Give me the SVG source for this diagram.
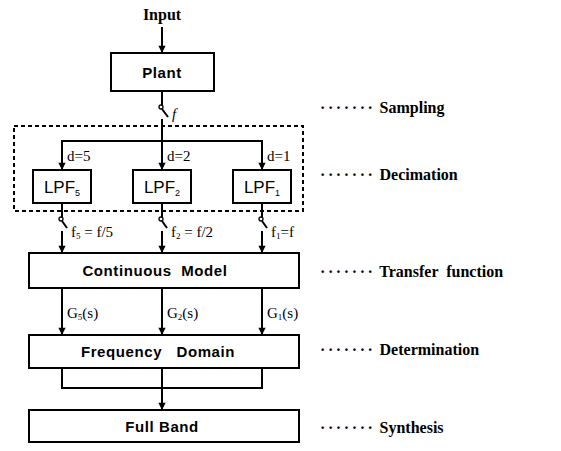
<svg xmlns="http://www.w3.org/2000/svg" width="561" height="451" viewBox="0 0 561 451">
<defs>
<marker id="ah" viewBox="0 0 8 10" refX="8" refY="5" markerWidth="8" markerHeight="9" markerUnits="userSpaceOnUse" orient="auto">
<path d="M0,1 L8,5 L0,9 Z" fill="#000"/>
</marker>
<style>
.box{fill:#fff;stroke:#000;stroke-width:2}
.ln{fill:none;stroke:#000;stroke-width:2}
.arr{fill:none;stroke:#000;stroke-width:2;marker-end:url(#ah)}
.sw{fill:#fff;stroke:#000;stroke-width:1.3}
.lbl{font-family:"Liberation Sans",Arial,sans-serif;font-weight:bold;font-size:15px;letter-spacing:0.6px;fill:#000;text-anchor:middle}
.lpf{font-family:"Liberation Sans",Arial,sans-serif;font-size:17px;fill:#000;text-anchor:middle}
.sm{font-family:"Liberation Serif","Times New Roman",serif;font-size:15px;fill:#000}
.side{font-family:"Liberation Serif","Times New Roman",serif;font-weight:bold;font-size:16px;fill:#000}
.dots{letter-spacing:2.6px}
.sub{font-size:9px}
</style>
</defs>
<rect width="561" height="451" fill="#fff"/>
<g id="connectors">
<line class="arr" x1="162" y1="27" x2="162" y2="53"/>
<line class="ln" x1="162" y1="91" x2="162" y2="105"/>
<circle class="sw" cx="161" cy="107" r="2"/>
<line class="ln" x1="162" y1="109" x2="168" y2="117" stroke-width="1.5"/>
<line class="ln" x1="162" y1="119" x2="162" y2="141"/>
<polyline class="ln" points="62,169 62,141 262,141 262,169"/>
<line class="arr" x1="62" y1="141" x2="62" y2="170"/>
<line class="arr" x1="162" y1="141" x2="162" y2="170"/>
<line class="arr" x1="262" y1="141" x2="262" y2="170"/>
<line class="ln" x1="62" y1="203" x2="62" y2="217"/>
<circle class="sw" cx="61" cy="219" r="2"/>
<line class="ln" x1="62" y1="221" x2="67" y2="228" stroke-width="1.5"/>
<line class="arr" x1="62" y1="231" x2="62" y2="253"/>
<line class="ln" x1="162" y1="203" x2="162" y2="217"/>
<circle class="sw" cx="161" cy="219" r="2"/>
<line class="ln" x1="162" y1="221" x2="167" y2="228" stroke-width="1.5"/>
<line class="arr" x1="162" y1="231" x2="162" y2="253"/>
<line class="ln" x1="262" y1="203" x2="262" y2="217"/>
<circle class="sw" cx="261" cy="219" r="2"/>
<line class="ln" x1="262" y1="221" x2="267" y2="228" stroke-width="1.5"/>
<line class="arr" x1="262" y1="231" x2="262" y2="253"/>
<line class="arr" x1="62" y1="288" x2="62" y2="335"/>
<line class="arr" x1="162" y1="288" x2="162" y2="335"/>
<line class="arr" x1="262" y1="288" x2="262" y2="335"/>
<polyline class="ln" points="62,368 62,388 262,388 262,368"/>
<line class="arr" x1="162" y1="368" x2="162" y2="410"/>
</g>
<rect x="14" y="126" width="289" height="85" fill="none" stroke="#000" stroke-width="2" stroke-dasharray="4,3"/>
<g id="input"><text x="162" y="20" class="side" text-anchor="middle" font-size="15">Input</text></g>
<g id="plant"><rect class="box" x="111" y="53" width="103" height="38"/><text class="lbl" x="162" y="78">Plant</text></g>
<text class="sm" x="172" y="119" font-style="italic">f</text>
<g id="lpf5"><rect class="box" x="33" y="170" width="58" height="33"/><text class="lpf" x="62" y="193">LPF<tspan class="sub" dy="3">5</tspan></text></g>
<g id="lpf2"><rect class="box" x="133" y="170" width="58" height="33"/><text class="lpf" x="162" y="193">LPF<tspan class="sub" dy="3">2</tspan></text></g>
<g id="lpf1"><rect class="box" x="233" y="170" width="58" height="33"/><text class="lpf" x="262" y="193">LPF<tspan class="sub" dy="3">1</tspan></text></g>
<text class="sm" x="67" y="161">d=5</text>
<text class="sm" x="167" y="161">d=2</text>
<text class="sm" x="267" y="161">d=1</text>
<text class="sm" x="71" y="237">f<tspan class="sub" dy="2">5</tspan><tspan dy="-2"> = f/5</tspan></text>
<text class="sm" x="171" y="237">f<tspan class="sub" dy="2">2</tspan><tspan dy="-2"> = f/2</tspan></text>
<text class="sm" x="271" y="237">f<tspan class="sub" dy="2">1</tspan><tspan dy="-2">=f</tspan></text>
<g id="continuous"><rect class="box" x="29" y="253" width="270" height="35"/><text class="lbl" x="155" y="276" xml:space="preserve">Continuous  Model</text></g>
<text class="sm" x="67" y="318">G<tspan class="sub" dy="2">5</tspan><tspan dy="-2">(s)</tspan></text>
<text class="sm" x="167" y="318">G<tspan class="sub" dy="2">2</tspan><tspan dy="-2">(s)</tspan></text>
<text class="sm" x="267" y="318">G<tspan class="sub" dy="2">1</tspan><tspan dy="-2">(s)</tspan></text>
<g id="frequency"><rect class="box" x="29" y="335" width="270" height="33"/><text class="lbl" x="158" y="357" xml:space="preserve">Frequency   Domain</text></g>
<g id="fullband"><rect class="box" x="29" y="410" width="270" height="32"/><text class="lbl" x="162" y="432">Full Band</text></g>
<g id="side-labels">
<text class="side" x="320" y="113"><tspan class="dots">·······</tspan> Sampling</text>
<text class="side" x="320" y="180"><tspan class="dots">·······</tspan> Decimation</text>
<text class="side" x="320" y="277" xml:space="preserve"><tspan class="dots">·······</tspan> Transfer  function</text>
<text class="side" x="320" y="355"><tspan class="dots">·······</tspan> Determination</text>
<text class="side" x="320" y="433"><tspan class="dots">·······</tspan> Synthesis</text>
</g>
</svg>
